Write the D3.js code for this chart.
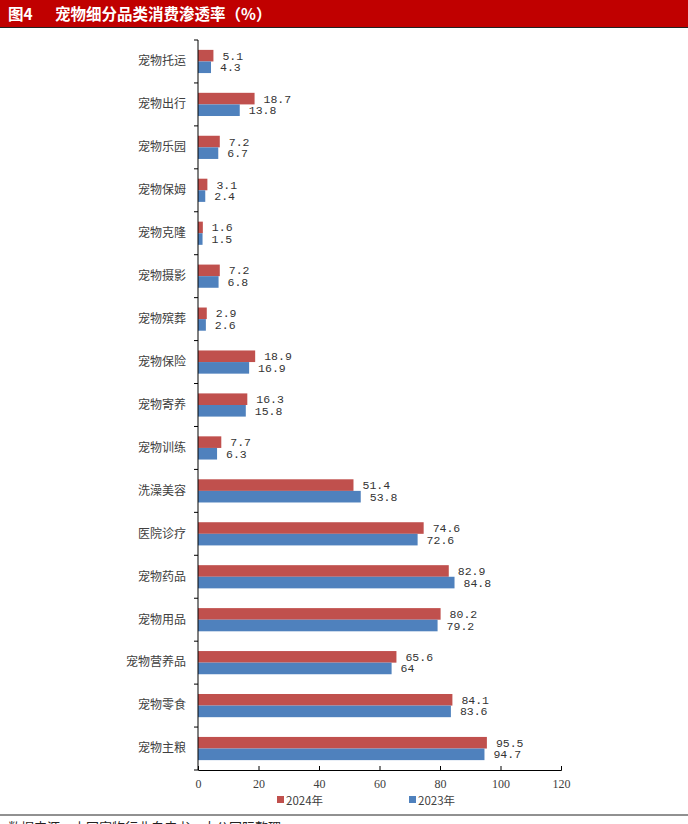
<!DOCTYPE html>
<html><head><meta charset="utf-8">
<script src="https://cdn.jsdelivr.net/npm/d3@7"></script>
<style>body{margin:0;background:#fff}svg{display:block}</style>
</head><body>
<script>
const categories = ["宠物托运","宠物出行","宠物乐园","宠物保姆","宠物克隆","宠物摄影","宠物殡葬","宠物保险","宠物寄养","宠物训练","洗澡美容","医院诊疗","宠物药品","宠物用品","宠物营养品","宠物零食","宠物主粮"];
const values2024 = [5.1,18.7,7.2,3.1,1.6,7.2,2.9,18.9,16.3,7.7,51.4,74.6,82.9,80.2,65.6,84.1,95.5];
const values2023 = [4.3,13.8,6.7,2.4,1.5,6.8,2.6,16.9,15.8,6.3,53.8,72.6,84.8,79.2,64,83.6,94.7];
const seriesNames = ["2024年","2023年"];
const xTicks = [0,20,40,60,80,100,120];
const titleNo = "图4";
const title = "宠物细分品类消费渗透率（%）";
const source = "数据来源：中国宠物行业白皮书，大公国际整理";

const W=688,H=824;
const colors = ["#C0504D","#4F81BD"];
const svg = d3.select("body").append("svg").attr("width",W).attr("height",H);
const cjk = "'Noto Sans CJK SC','Noto Sans',sans-serif";

// title bar
svg.append("rect").attr("x",0).attr("y",0).attr("width",W).attr("height",27).attr("fill","#C00000");
svg.append("line").attr("x1",0).attr("x2",W).attr("y1",27.5).attr("y2",27.5).attr("stroke","#222").attr("stroke-width",1);
svg.append("text").attr("x",8).attr("y",20).attr("fill","#fff").attr("font-family",cjk)
  .attr("font-weight","bold").attr("font-size",15.5).text(titleNo);
svg.append("text").attr("x",55).attr("y",20).attr("fill","#fff").attr("font-family",cjk)
  .attr("font-weight","bold").attr("font-size",15.5).text(title);

const x = d3.scaleLinear().domain([0,120]).range([198,561]);
const y = d3.scaleBand().domain(categories).range([40,770]).paddingInner(0.46).paddingOuter(0.23);
const sub = d3.scaleBand().domain([0,1]).range([0,y.bandwidth()]);

const g = svg.append("g");
categories.forEach((c,i)=>{
  [values2024[i],values2023[i]].forEach((v,k)=>{
    const yy = y(c)+sub(k);
    g.append("rect").attr("x",x(0)).attr("y",yy).attr("width",x(v)-x(0)).attr("height",sub.bandwidth())
      .attr("fill",colors[k]);
    g.append("text").attr("x",x(v)+9).attr("y",yy+sub.bandwidth()/2).attr("dy","0.35em")
      .attr("font-family","'Liberation Mono','DejaVu Sans Mono',monospace").attr("font-size",11.5)
      .attr("fill","#333").text(String(v));
  });
});

// y axis
const yAxis = d3.axisLeft(y).tickSize(0).tickPadding(12);
const ya = svg.append("g").attr("transform",`translate(${x(0)},0)`).call(yAxis);
ya.select(".domain").remove();
ya.selectAll("text").attr("font-family",cjk).attr("font-size",12).attr("fill","#404040");
svg.append("line").attr("x1",x(0)).attr("x2",x(0)).attr("y1",40).attr("y2",770).attr("stroke","#000");
d3.range(categories.length+1).forEach(i=>{
  const yy = 40 + i*(730/categories.length);
  svg.append("line").attr("x1",x(0)-4).attr("x2",x(0)).attr("y1",yy).attr("y2",yy).attr("stroke","#000");
});

// x axis
const xa = svg.append("g").attr("transform","translate(0,770)")
  .call(d3.axisBottom(x).tickValues(xTicks).tickSize(-4).tickPadding(9));
xa.select(".domain").attr("stroke","#000");
xa.selectAll(".tick line").attr("stroke","#000");
xa.selectAll("text").attr("font-family","'Liberation Serif','DejaVu Serif',serif").attr("font-size",12).attr("fill","#404040");

// legend
const legX=[277,409];
seriesNames.forEach((n,k)=>{
  svg.append("rect").attr("x",legX[k]).attr("y",796).attr("width",7).attr("height",7).attr("fill",colors[k]);
  svg.append("text").attr("x",legX[k]+9).attr("y",805).attr("font-family",cjk).attr("font-size",11.5).attr("fill","#404040").text(n);
});

// footer
svg.append("line").attr("x1",0).attr("x2",W).attr("y1",815).attr("y2",815).attr("stroke","#222").attr("stroke-width",1);
svg.append("text").attr("x",8).attr("y",832).attr("font-family",cjk).attr("font-size",13).attr("fill","#222").text(source);
</script>
</body></html>
